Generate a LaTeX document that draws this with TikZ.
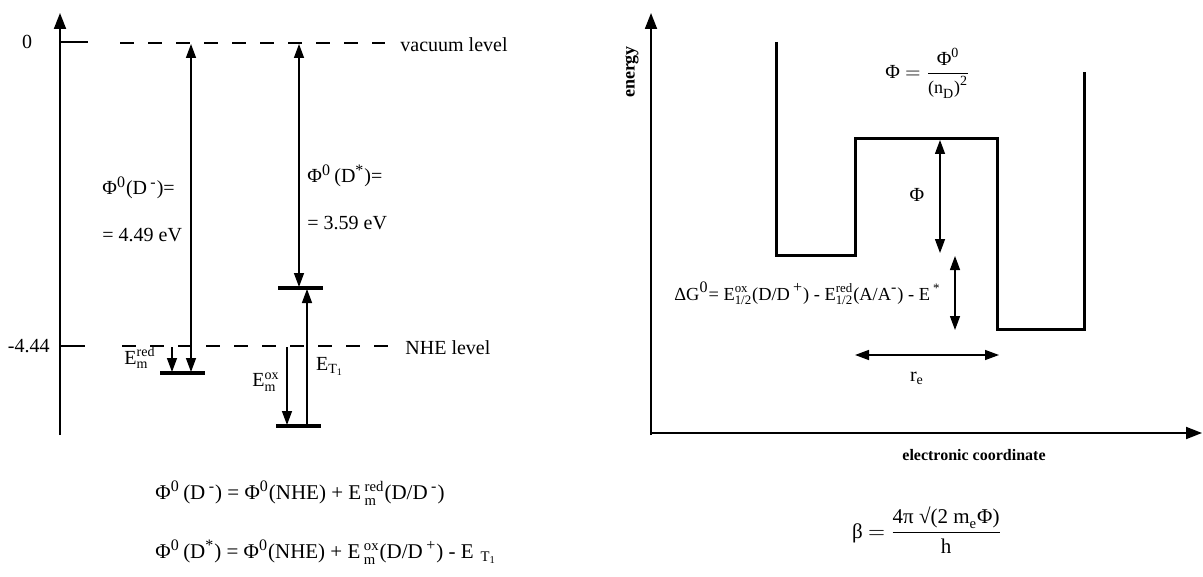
\documentclass[tikz,border=0pt]{standalone}
\usepackage{amsmath}
\usepackage{fontspec}
\setmainfont{Liberation Serif}
\usetikzlibrary{arrows.meta,positioning,calc}

\newcommand{\supsub}[2]{$^{\textrm{#1}}_{\textrm{#2}}$}
\newcommand{\upsc}[1]{\textsuperscript{\footnotesize #1}}

\begin{document}
\begin{tikzpicture}[x=0.5pt, y=-0.5pt,
    axis/.style={line width=0.9pt, -{Triangle[length=8pt,width=6pt]}},
    tick/.style={line width=0.8pt},
    level/.style={line width=1.6pt},
    lvldash/.style={line width=0.7pt, dash pattern=on 7pt off 7pt},
    flow/.style={line width=0.7pt, -{Triangle[length=7pt,width=5pt]}},
    dflow/.style={line width=0.7pt, {Triangle[length=7pt,width=5pt]}-{Triangle[length=7pt,width=5pt]}},
    well/.style={line width=1.5pt},
    lbl/.style={inner sep=1pt, font=\normalsize},
    eqlbl/.style={inner sep=1pt, font=\fontsize{10.5}{12}\selectfont},
    axlbl/.style={inner sep=1pt, font=\footnotesize\bfseries}
]
\useasboundingbox (0,0) rectangle (1203,577);

% left panel: energy levels
\coordinate (ax0) at (60,435); \coordinate (ax1) at (60,13);
\draw[axis] (ax0) -- (ax1);
\coordinate (tv0) at (60,42); \coordinate (tv1) at (88,42);
\coordinate (tn0) at (60,346); \coordinate (tn1) at (85,346);
\draw[tick] (tv0) -- (tv1); \draw[tick] (tn0) -- (tn1);
\node[lbl] (zero) at (27,42) {0};
\node[lbl, anchor=east] (nhe) at (52,346) {-4.44};

\coordinate (vac0) at (120,43); \coordinate (vac1) at (385,43);
\coordinate (nh0) at (122,346); \coordinate (nh1) at (388,346);
\draw[lvldash] (vac0) -- (vac1);
\draw[lvldash] (nh0) -- (nh1);
\node[lbl, anchor=west] (vaclbl) at (398,45) {vacuum level};
\node[lbl, anchor=west] (nhelbl) at (403,348) {NHE level};

\coordinate (red0) at (160,373); \coordinate (red1) at (205,373);
\coordinate (tt0) at (278,288); \coordinate (tt1) at (323,288);
\coordinate (ox0) at (276,426); \coordinate (ox1) at (321,426);
\draw[level] (red0) -- (red1);
\draw[level] (tt0) -- (tt1);
\draw[level] (ox0) -- (ox1);

\coordinate (pa0) at (191,44); \coordinate (pa1) at (191,372);
\coordinate (pb0) at (299,44); \coordinate (pb1) at (299,287);
\coordinate (er0) at (172,347); \coordinate (er1) at (172,372);
\coordinate (et0) at (307,425); \coordinate (et1) at (307,289);
\coordinate (eo0) at (287,347); \coordinate (eo1) at (287,425);
\draw[dflow] (pa0) -- (pa1);
\draw[dflow] (pb0) -- (pb1);
\draw[flow] (er0) -- (er1);
\draw[flow] (et0) -- (et1);
\draw[flow] (eo0) -- (eo1);

\node[lbl, anchor=west] (phim) at (100,188) {Φ\upsc{0}(D\,\upsc{-})=};
\node[lbl, anchor=west] (phimv) at (100,235) {= 4.49 eV};
\node[lbl, anchor=west] (phis) at (305,176) {Φ\upsc{0}\,(D\upsc{*})=};
\node[lbl, anchor=west] (phisv) at (305,223) {= 3.59 eV};
\node[lbl] (emred) at (140,358) {E\supsub{red}{m}};
\node[lbl] (emox) at (266,382) {E\supsub{ox}{m}};
\node[lbl] (et) at (330,366) {E$_{\textrm{T}_{\textrm{1}}}$};

\node[eqlbl, anchor=west] (eqa) at (153,493)
  {Φ\upsc{0}\,(D\,\upsc{-}) = Φ\upsc{0}(NHE) + E\,\supsub{red}{m}(D/D\,\upsc{-})};
\node[eqlbl, anchor=west] (eqb) at (153,552)
  {Φ\upsc{0}\,(D\upsc{*}) = Φ\upsc{0}(NHE) + E\,\supsub{ox}{m}(D/D\,\upsc{+}) - E\,\,$_{\textrm{T}_{\textrm{1}}}$};

% right panel: potential well
\coordinate (ey0) at (651,435); \coordinate (ey1) at (651,13);
\coordinate (ex0) at (651,433); \coordinate (ex1) at (1202,433);
\draw[axis] (ey0) -- (ey1);
\draw[axis] (ex0) -- (ex1);
\node[axlbl, font=\small\bfseries, rotate=90] (enlbl) at (632,72) {energy};
\node[axlbl] (eclbl) at (974,455) {electronic coordinate};

\draw[well] (776,42) -- (776,255) -- (855,255) -- (855,139) -- (997,139)
  -- (997,329) -- (1084,329) -- (1084,72);

\node[lbl] (phieq) at (928,73)
  {Φ $=$ $\dfrac{\textrm{Φ}^{\textrm{0}}}{\textrm{\small(n}_{\textrm{D}}\textrm{\small)}^{\textrm{2}}}$};

\coordinate (pw0) at (940,140); \coordinate (pw1) at (940,253);
\coordinate (dg0) at (955,256); \coordinate (dg1) at (955,330);
\coordinate (re0) at (855,355); \coordinate (re1) at (999,355);
\draw[dflow] (pw0) -- (pw1);
\draw[dflow] (dg0) -- (dg1);
\draw[dflow] (re0) -- (re1);
\node[lbl] (philbl) at (917,195) {Φ};
\node[lbl] (relbl) at (917,378) {r\textsubscript{e}};
\node[lbl, font=\fontsize{9.2}{11}\selectfont, anchor=west] (dgeq) at (672,293)
  {ΔG\upsc{0}= E\supsub{ox}{1/2}(D/D\,\upsc{+}) - E\supsub{red}{1/2}(A/A\upsc{-}) - E\,\textsuperscript{*}};

\node[eqlbl] (betaeq) at (927,530)
  {β $=$ $\dfrac{\textrm{4π √(2 m}_{\textrm{e}}\textrm{Φ)}}{\textrm{h}}$};
\end{tikzpicture}
\end{document}
